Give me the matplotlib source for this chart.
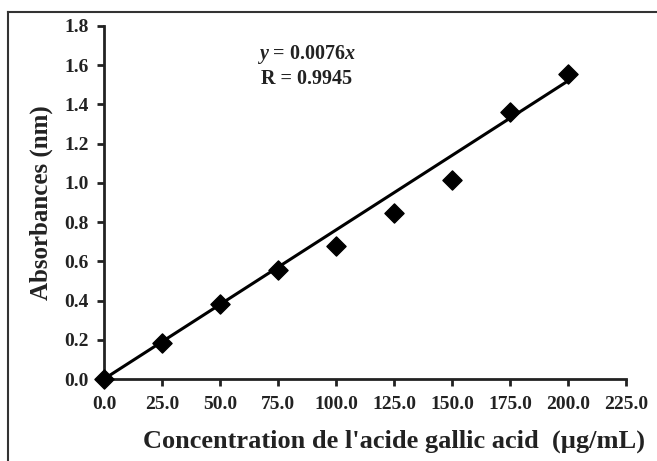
import matplotlib
matplotlib.use("Agg")
import matplotlib.pyplot as plt
from matplotlib.lines import Line2D
import numpy as np

concentration = [0, 25, 50, 75, 100, 125, 150, 175, 200]
absorbance = [0.0, 0.185, 0.38, 0.555, 0.678, 0.848, 1.015, 1.36, 1.555]
slope = 0.0076
x_ticks = [0, 25, 50, 75, 100, 125, 150, 175, 200, 225]
y_ticks = [0.0, 0.2, 0.4, 0.6, 0.8, 1.0, 1.2, 1.4, 1.6, 1.8]

plt.rcParams['font.family'] = ['Liberation Serif', 'DejaVu Serif']
plt.rcParams['font.weight'] = 'bold'
plt.rcParams['mathtext.fontset'] = 'custom'
plt.rcParams['mathtext.it'] = 'Liberation Serif:italic:bold'
plt.rcParams['mathtext.rm'] = 'Liberation Serif:bold'
plt.rcParams['mathtext.bf'] = 'Liberation Serif:bold'

fig = plt.figure(figsize=(6.57, 4.61), dpi=100)
ax = fig.add_axes([104/657, 1 - 379/461, (626 - 104)/657, (379 - 26)/461])

ax.scatter(concentration, absorbance, marker='D', s=95, color='black', zorder=3, clip_on=False)
xf = np.array([0, concentration[-1]])
ax.plot(xf, slope * xf, color='black', lw=2.2, zorder=2)

ax.set_xlim(0, 225)
ax.set_ylim(0, 1.8)
ax.set_xticks(x_ticks)
ax.set_xticklabels([f"{v:.1f}" for v in x_ticks])
ax.set_yticks(y_ticks)
ax.set_yticklabels([f"{v:.1f}" for v in y_ticks])

for s in ['top', 'right']:
    ax.spines[s].set_visible(False)
for s in ['left', 'bottom']:
    ax.spines[s].set_linewidth(2)
    ax.spines[s].set_color('#222222')
ax.tick_params(axis='both', direction='out', length=5, width=2, labelsize=14, colors='#222222')
ax.tick_params(axis='x', pad=7)
ax.tick_params(axis='y', pad=6)
for lab in ax.get_xticklabels() + ax.get_yticklabels():
    lab.set_fontweight('bold')

ax.set_xlabel("Concentration de l'acide gallic acid  (µg/mL)", fontsize=19, fontweight='bold',
              labelpad=12, color='#222222')
ax.xaxis.label.set_x(0.5565)
ax.set_ylabel("Absorbances (nm)", fontsize=18, fontweight='bold', labelpad=8, color='#222222')

ax.text(0.389, 0.918, r"$\mathit{y}$ = 0.0076$\mathit{x}$", transform=ax.transAxes,
        ha='center', va='center', fontsize=14.5, fontweight='bold', color='#222222')
ax.text(0.389, 0.850, "R = 0.9945", transform=ax.transAxes,
        ha='center', va='center', fontsize=14.5, fontweight='bold', color='#222222')

# outer frame lines (left and top)
fig.add_artist(Line2D([8/657, 8/657], [0, 1 - 12/461], transform=fig.transFigure, color='#333333', lw=1.5))
fig.add_artist(Line2D([8/657, 1], [1 - 12/461, 1 - 12/461], transform=fig.transFigure, color='#333333', lw=1.5))

fig.savefig("out.png", dpi=100)
